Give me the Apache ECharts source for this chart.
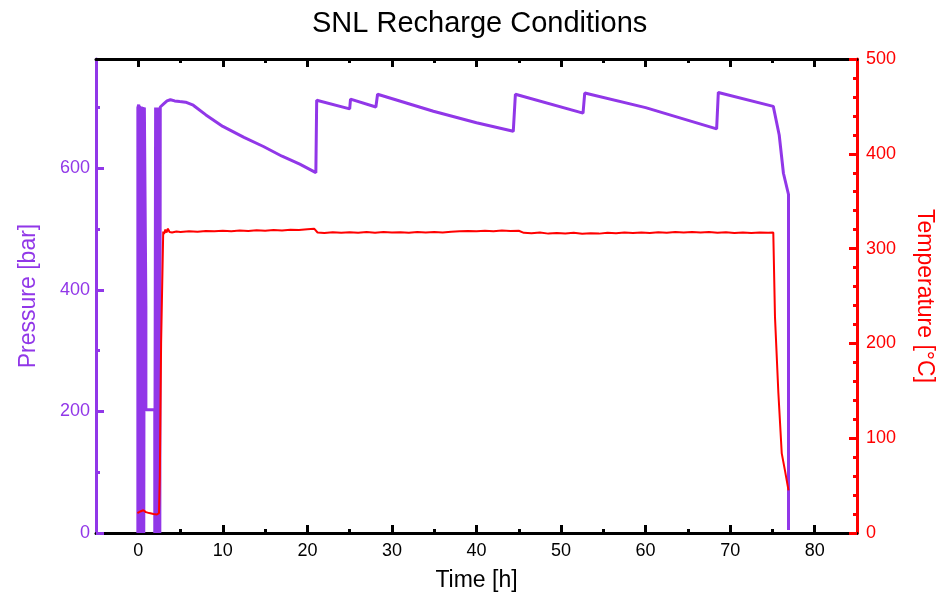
<!DOCTYPE html>
<html>
<head>
<meta charset="utf-8">
<script src="https://cdn.jsdelivr.net/npm/echarts@6/dist/echarts.min.js"></script>
<style>
html,body{margin:0;padding:0;background:#fff;}
#chart{width:940px;height:594px;}
</style>
</head>
<body>
<div id="chart"></div>
<script>
// ---- data ----
const pressureTime = [-0.05,-0.05,0.05,0.05,0.15,0.15,0.25,0.25,0.35,0.35,0.45,0.45,0.55,0.55,0.65,0.65,0.72,0.72,0.9,0.9,1.95,1.95,2.05,2.05,2.15,2.15,2.25,2.25,2.35,2.35,2.45,2.45,2.55,2.55,2.6,3.0,3.4,3.8,4.3,4.9,5.6,6.5,8.0,10.0,12.5,14.8,17.0,19.1,21.0,21.1,25.0,25.1,28.1,28.3,34.9,40.0,44.35,44.6,52.6,52.8,60.0,68.4,68.6,75.1,75.8,76.3,76.9,76.9];
const pressureValue = [0,700,705,0,0,703,700,0,0,702,700,0,0,701,700,0,0,700,373,203,203,0,0,700,701,0,0,700,701,0,0,700,700,0,701,706,711,713,711,710,709,704,688,669,651,636,620,607,593,712,698,714,701,722,694,675,661,722,691,724,700,665,725,702,655,592,557,5];

const tempTime = [-0.1,0.3,0.6,0.9,1.3,1.8,2.2,2.45,2.55,2.7,2.95,3.05,3.2,3.35,3.5,3.7,4.0,4.5,5,6,7,8,9,10,11,12,13,14,15,16,17,18,19,20,20.8,21.2,22,23,24,25,26,27,28,29,30,31,32,33,34,35,36,37,38,39,40,41,42,43,44,45,45.6,46.5,47.5,48.5,49.5,50.5,51.5,52.5,53.5,54.5,55.5,56.5,57.5,58.5,59.5,60.5,61.5,62.5,63.5,64.5,65.5,66.5,67.5,68.5,69.5,70.5,71.5,72.5,73.5,74.5,75.1,75.3,75.7,76.1,76.5,76.9];
const tempValue = [21,23,24,22,21,20,19.5,21,60,200,318,315.5,320,317,321,317.5,317,318,317.6,318.4,317.9,318.6,318.2,318.8,318.3,319,318.6,319.3,318.9,319.6,319.2,320,319.6,320.4,321,317,316.4,317.2,316.6,317.3,316.8,317.4,316.7,317.5,316.9,317.3,316.6,317.4,316.9,317.5,317,317.8,318.3,318.6,318.2,318.9,318.4,319.1,318.6,318.8,316.6,316.2,316.9,315.8,316.5,315.9,316.6,315.6,316.3,315.8,316.7,316.2,316.9,316.4,317,316.5,317.2,316.8,317.4,316.9,317.6,317.1,317.5,316.8,317.3,316.5,317,316.4,316.9,316.6,317,228,148,84,65,45];

const xMajorTicks = [0,10,20,30,40,50,60,70,80];
const xMinorTicks = [5,15,25,35,45,55,65,75];
const pMajorTicks = [0,200,400,600];
const pMinorTicks = [100,300,500,700];
const tMajorTicks = [0,100,200,300,400,500];
const tMinorTicks = [20,40,60,80,120,140,160,180,220,240,260,280,320,340,360,380,420,440,460,480];

const PURPLE = '#9137e8';
const RED = '#ff0000';
const FONT = 'Liberation Sans, Arial, Helvetica, sans-serif';

const pressureData = pressureTime.map((t, i) => [t, pressureValue[i]]);
const tempData = tempTime.map((t, i) => [t, tempValue[i]]);

function xAx(position, values, len, showLine, showLabels) {
  return {
    type: 'value', position: position, min: -5, max: 85,
    axisLine: {show: showLine, onZero: false, lineStyle: {color: '#000', width: 3}},
    axisTick: {show: true, inside: true, length: len, customValues: values, lineStyle: {color: '#000', width: 3}},
    axisLabel: {show: showLabels, customValues: values, color: '#000', fontSize: 18, fontFamily: FONT, margin: 9},
    splitLine: {show: false}
  };
}
function yAx(position, max, values, len, color, showLine, showLabels, margin) {
  return {
    type: 'value', position: position, min: 0, max: max,
    axisLine: {show: showLine, onZero: false, lineStyle: {color: color, width: 3}},
    axisTick: {show: true, inside: true, length: len, customValues: values, lineStyle: {color: color, width: 3}},
    axisLabel: {show: showLabels, customValues: values, color: color, fontSize: 18, fontFamily: FONT, margin: margin},
    splitLine: {show: false}
  };
}

const xMain = xAx('bottom', xMajorTicks, 8, true, true);
xMain.name = 'Time [h]';
xMain.nameLocation = 'middle';
xMain.nameGap = 36;
xMain.nameTextStyle = {color: '#000', fontSize: 23, fontFamily: FONT};

const yP = yAx('left', 780, pMajorTicks, 8, PURPLE, true, true, 6);
yP.name = 'Pressure [bar]';
yP.nameLocation = 'middle';
yP.nameRotate = 90;
yP.nameGap = 56;
yP.nameTextStyle = {color: PURPLE, fontSize: 23, fontFamily: FONT};

const yT = yAx('right', 500, tMajorTicks, 8, RED, true, true, 9);
yT.name = 'Temperature [°C]';
yT.nameLocation = 'middle';
yT.nameRotate = -90;
yT.nameGap = 56;
yT.nameTextStyle = {color: RED, fontSize: 23, fontFamily: FONT};

const option = {
  animation: false,
  backgroundColor: '#fff',
  title: {
    text: 'SNL Recharge Conditions', left: 307, top: 4,
    textStyle: {color: '#000', fontSize: 29, fontWeight: 'normal', fontFamily: FONT}
  },
  grid: {left: 96, right: 83, top: 59, bottom: 61, containLabel: false, outerBoundsMode: 'none'},
  xAxis: [
    xMain,
    xAx('bottom', xMinorTicks, 4, false, false),
    xAx('top', xMajorTicks, 8, true, false),
    xAx('top', xMinorTicks, 4, false, false)
  ],
  yAxis: [
    yP,
    yAx('left', 780, pMinorTicks, 4, PURPLE, false, false, 6),
    yT,
    yAx('right', 500, tMinorTicks, 4, RED, false, false, 9)
  ],
  series: [
    {
      name: 'Pressure', type: 'line', xAxisIndex: 0, yAxisIndex: 0,
      data: pressureData, showSymbol: false, symbol: 'none',
      lineStyle: {color: PURPLE, width: 3, join: 'bevel'}, z: 2
    },
    {
      name: 'Temperature', type: 'line', xAxisIndex: 0, yAxisIndex: 2,
      data: tempData, showSymbol: false, symbol: 'none',
      lineStyle: {color: RED, width: 2}, z: 3
    }
  ]
};

const chart = echarts.init(document.getElementById('chart'), null, {renderer: 'canvas'});
chart.setOption(option);
</script>
</body>
</html>
